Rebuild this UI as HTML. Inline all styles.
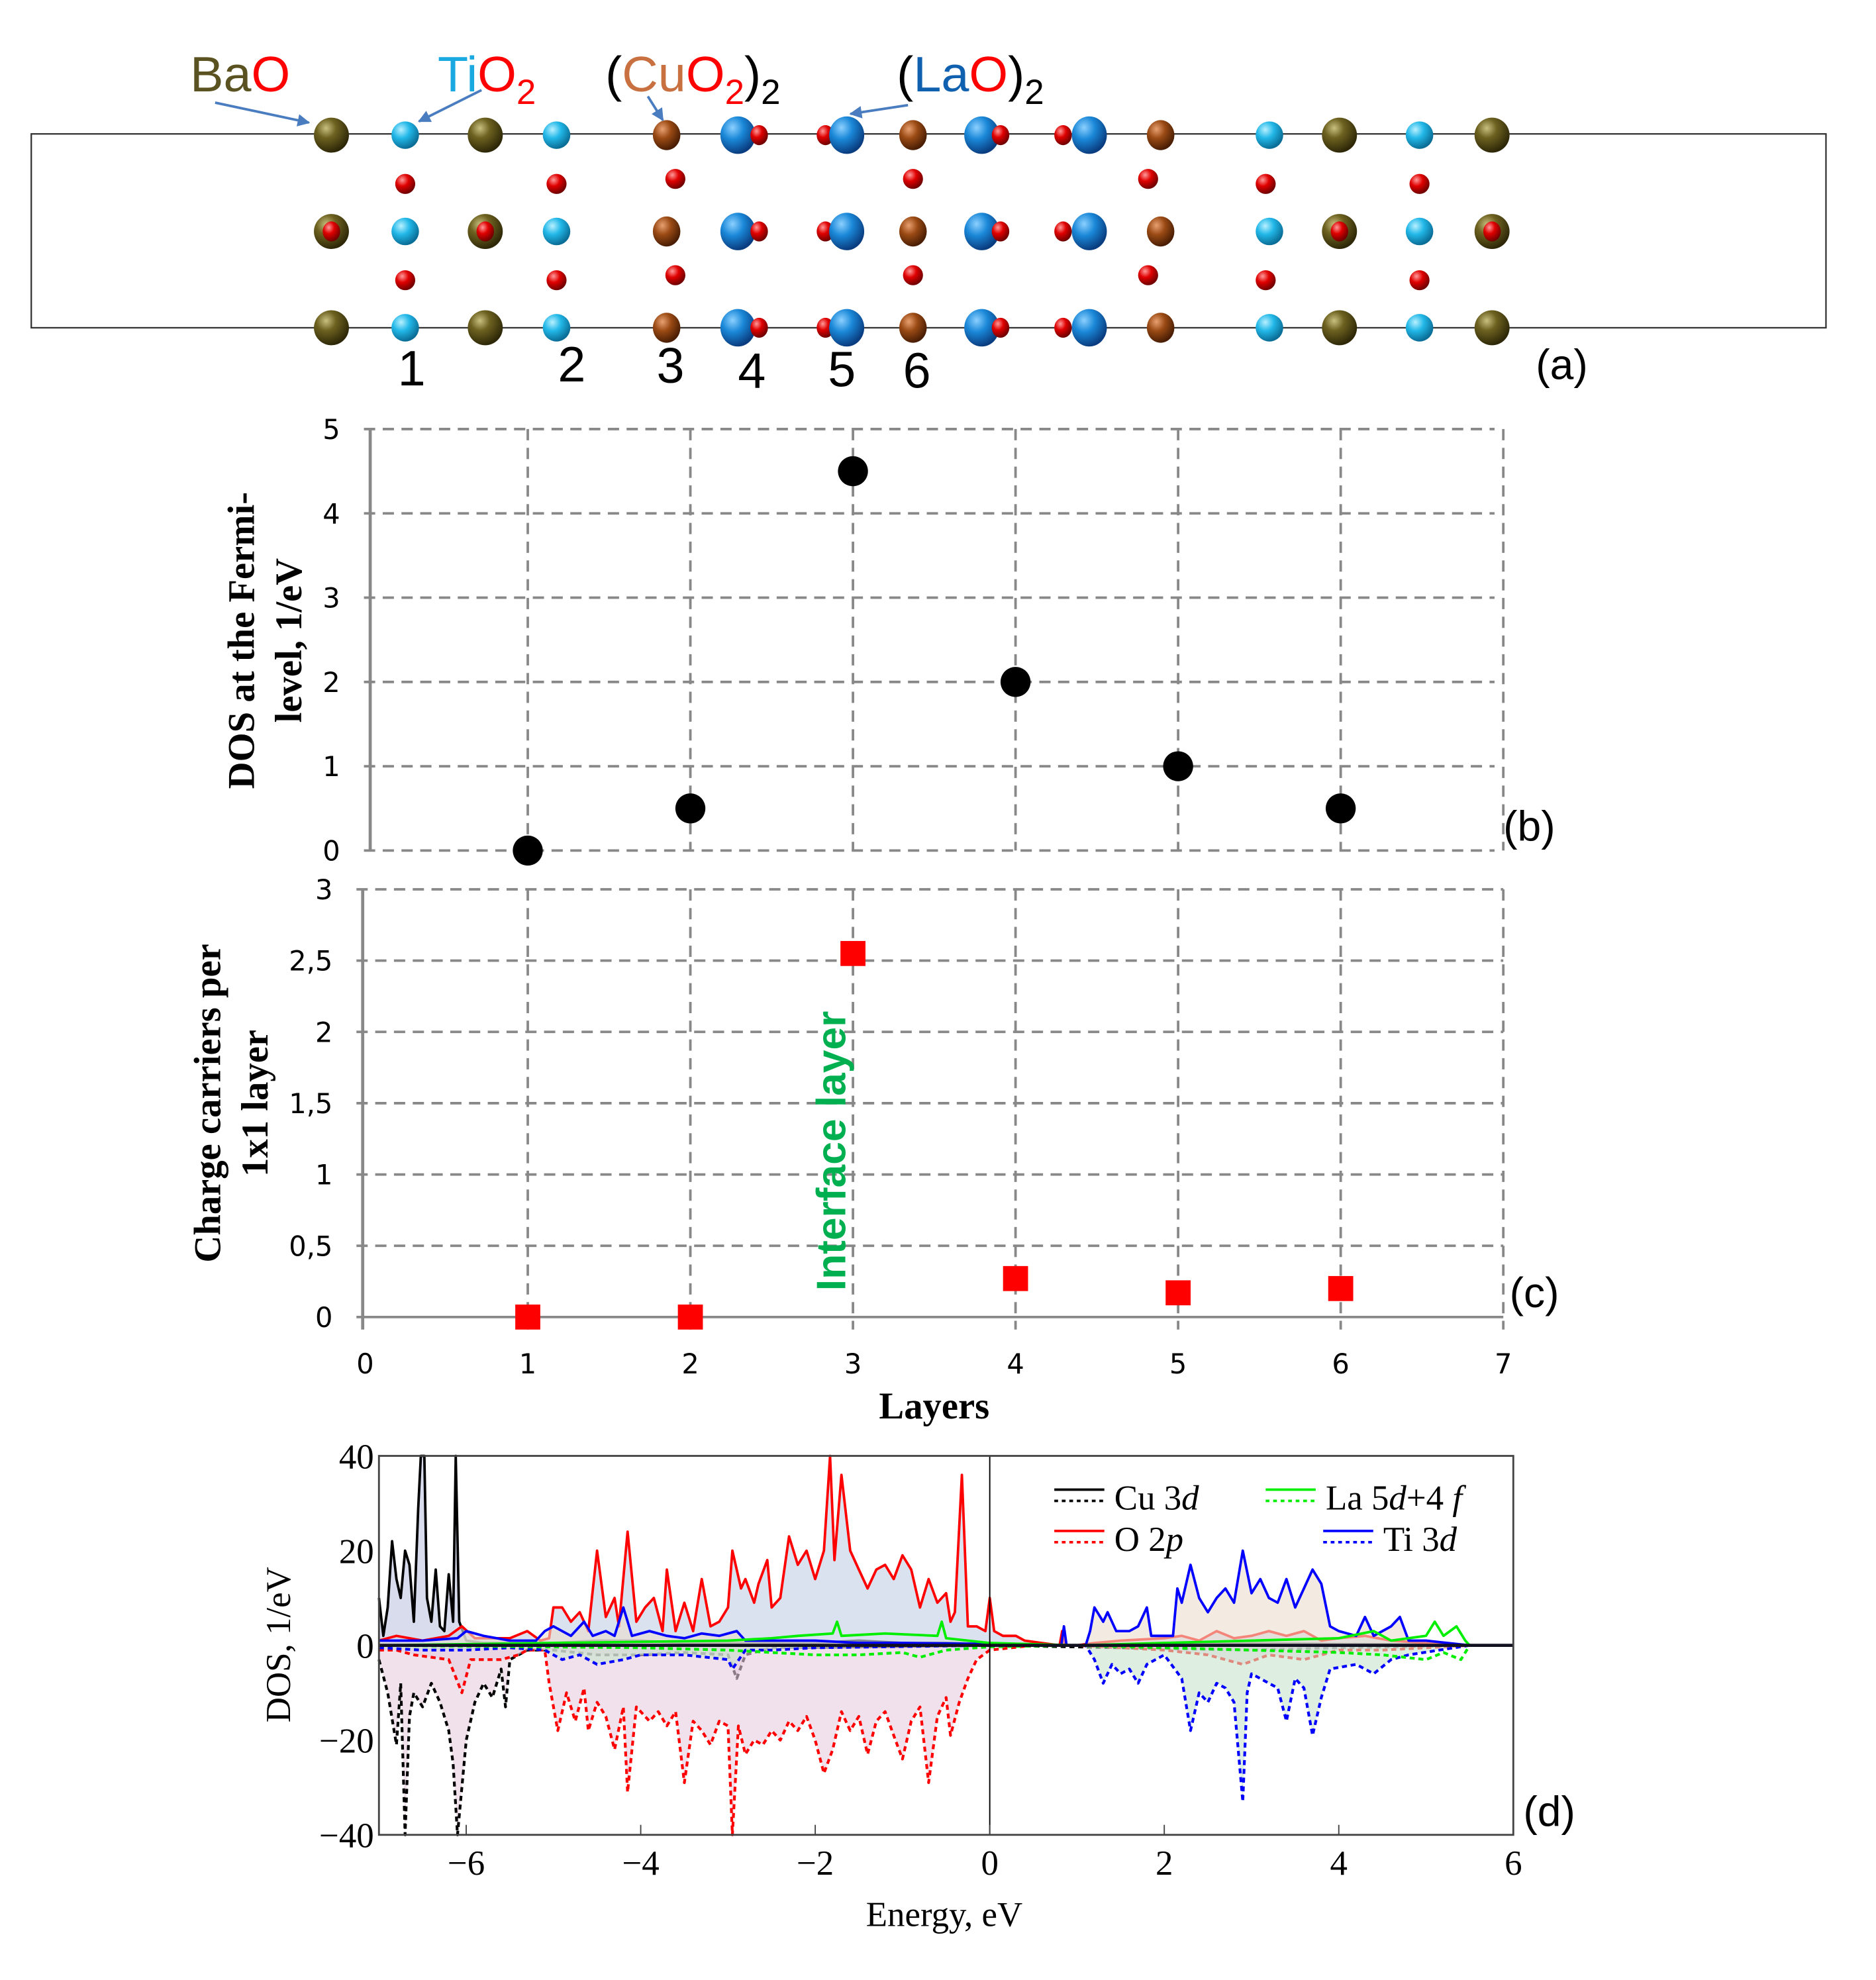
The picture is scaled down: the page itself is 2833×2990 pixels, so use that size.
<!DOCTYPE html>
<html><head><meta charset="utf-8"><style>
html,body{margin:0;padding:0;background:#fff}
svg{display:block}
.serifb{font-family:"Liberation Serif",serif;font-weight:bold}
.sans{font-family:"DejaVu Sans","Liberation Sans",sans-serif}
.serif{font-family:"Liberation Serif",serif}
</style></head><body>
<svg id="fig" width="2833" height="2990" viewBox="0 0 1500 1583" xmlns="http://www.w3.org/2000/svg">
<defs>
<radialGradient id="gBa" cx="35%" cy="30%" r="70%"><stop offset="0" stop-color="#c8c080"/><stop offset="0.4" stop-color="#6e6220"/><stop offset="1" stop-color="#2e2808"/></radialGradient>
<radialGradient id="gTi" cx="35%" cy="30%" r="70%"><stop offset="0" stop-color="#b8f0ff"/><stop offset="0.45" stop-color="#22b8e8"/><stop offset="1" stop-color="#0a6d96"/></radialGradient>
<radialGradient id="gLa" cx="35%" cy="30%" r="70%"><stop offset="0" stop-color="#8cd0ff"/><stop offset="0.45" stop-color="#1a88d8"/><stop offset="1" stop-color="#0a3d80"/></radialGradient>
<radialGradient id="gCu" cx="35%" cy="30%" r="70%"><stop offset="0" stop-color="#e8a070"/><stop offset="0.45" stop-color="#9a4a14"/><stop offset="1" stop-color="#4a1e04"/></radialGradient>
<radialGradient id="gO" cx="35%" cy="30%" r="70%"><stop offset="0" stop-color="#ff9a9a"/><stop offset="0.45" stop-color="#e00000"/><stop offset="1" stop-color="#700000"/></radialGradient>
<marker id="arr" viewBox="0 0 10 10" refX="9" refY="5" markerWidth="5" markerHeight="5" orient="auto"><path d="M0,0 L10,5 L0,10 z" fill="#4a7cc0"/></marker>
</defs>

<g id="panelA">
<rect x="25" y="107" width="1435" height="155" fill="none" stroke="#333" stroke-width="1.2"/>
<g id="atoms"></g>
<text x="152" y="73" font-size="40" font-family="Liberation Sans"><tspan fill="#5a5220">Ba</tspan><tspan fill="#f00">O</tspan></text>
<text x="350" y="73" font-size="40" font-family="Liberation Sans"><tspan fill="#1aa8e0">Ti</tspan><tspan fill="#f00">O</tspan><tspan fill="#f00" font-size="28" dy="10">2</tspan></text>
<text x="484" y="73" font-size="40" font-family="Liberation Sans"><tspan fill="#000">(</tspan><tspan fill="#c87040">Cu</tspan><tspan fill="#f00">O</tspan><tspan fill="#f00" font-size="28" dy="10">2</tspan><tspan fill="#000" dy="-10">)</tspan><tspan fill="#000" font-size="28" dy="10">2</tspan></text>
<text x="717" y="73" font-size="40" font-family="Liberation Sans"><tspan fill="#000">(</tspan><tspan fill="#1060b0">La</tspan><tspan fill="#f00">O</tspan><tspan fill="#000">)</tspan><tspan fill="#000" font-size="28" dy="10">2</tspan></text>
<line x1="172" y1="82" x2="247" y2="98" stroke="#4a7cc0" stroke-width="2" marker-end="url(#arr)"/>
<line x1="385" y1="72" x2="335" y2="97" stroke="#4a7cc0" stroke-width="2" marker-end="url(#arr)"/>
<line x1="518" y1="77" x2="530" y2="96" stroke="#4a7cc0" stroke-width="2" marker-end="url(#arr)"/>
<line x1="726" y1="84" x2="680" y2="91" stroke="#4a7cc0" stroke-width="2" marker-end="url(#arr)"/>
<g font-family="Liberation Sans" font-size="40" fill="#000">
<text x="318" y="308">1</text>
<text x="446" y="305">2</text>
<text x="525" y="306">3</text>
<text x="590" y="310">4</text>
<text x="662" y="309">5</text>
<text x="722" y="310">6</text>
</g>
<text x="1228" y="303" font-size="34" font-family="Liberation Sans">(a)</text>
</g>

<g id="panelB"></g>
<g id="panelC"></g>
<g id="panelD"></g>
</svg>

<script>
const layers = [1, 2, 3, 4, 5, 6];
const dosFermi = [0, 0.5, 4.5, 2, 1, 0.5];
const carriers = [0, 0, 2.55, 0.27, 0.17, 0.2];
const bTicks = [0, 1, 2, 3, 4, 5];
const cTicks = [0, 0.5, 1, 1.5, 2, 2.5, 3];
const cTickLabels = ["0", "0,5", "1", "1,5", "2", "2,5", "3"];
const xTicks = [0, 1, 2, 3, 4, 5, 6, 7];

const oUpE = [-7,-6.8,-6.5,-6.2,-6.05,-5.9,-5.5,-5.3,-5.15,-5.05,-5.0,-4.9,-4.8,-4.7,-4.6,-4.5,-4.4,-4.3,-4.25,-4.15,-4.05,-3.95,-3.85,-3.75,-3.7,-3.6,-3.5,-3.4,-3.3,-3.2,-3.1,-3.0,-2.95,-2.85,-2.8,-2.7,-2.65,-2.55,-2.5,-2.4,-2.3,-2.2,-2.1,-2.0,-1.9,-1.83,-1.78,-1.7,-1.6,-1.5,-1.4,-1.3,-1.2,-1.1,-1.0,-0.9,-0.8,-0.7,-0.6,-0.5,-0.45,-0.4,-0.32,-0.25,-0.15,-0.05,0,0.05,0.15,0.3,0.4,0.6,0.8,0.83,0.86,1.0,1.2,1.5,2.0,2.2,2.4,2.6,2.8,3.0,3.2,3.4,3.6,3.8,4.0,4.3,4.6,5.0,5.5];
const oUpV = [1,2,1,2,4,1.5,1.5,3,1,1.5,8,8,5,7,3,20,6,10,4,24,5,8,10,3,16,3,9,3,14,4,5,8,20,12,14,9,13,18,8,10,23,17,20,14,20,40,18,36,20,16,12,16,17,14,19,16,8,14,9,11,5,7,36,4,4,3,10,3,2,2,1,0.5,0,3,0,0,0.5,1,1.5,2,1,3,1.5,2,3,2,3,1,1.5,2,1,0.5,0];
const oDnE = [-7,-6.8,-6.6,-6.2,-6.05,-5.95,-5.6,-5.4,-5.3,-5.1,-5.05,-4.95,-4.85,-4.75,-4.65,-4.6,-4.5,-4.4,-4.3,-4.2,-4.15,-4.05,-3.9,-3.8,-3.7,-3.6,-3.5,-3.4,-3.3,-3.2,-3.1,-3.0,-2.95,-2.88,-2.8,-2.7,-2.6,-2.5,-2.4,-2.3,-2.2,-2.1,-2.0,-1.9,-1.8,-1.7,-1.6,-1.5,-1.4,-1.3,-1.2,-1.1,-1.0,-0.9,-0.8,-0.7,-0.6,-0.5,-0.45,-0.35,-0.25,-0.15,0,0.5,1.0,1.5,2.0,2.5,2.9,3.2,3.6,4.0,4.5,5.5];
const oDnV = [-1,-1,-2,-3,-10,-3,-3,-2,-1,-1,-8,-18,-10,-16,-9,-18,-12,-15,-22,-13,-31,-13,-16,-14,-17,-14,-29,-16,-18,-21,-16,-17,-40,-17,-23,-20,-21,-18,-20,-16,-18,-15,-20,-27,-22,-14,-18,-15,-23,-16,-14,-19,-24,-16,-13,-29,-15,-11,-19,-12,-7,-3,-1,0,0,-0.5,-1,-2,-4,-2,-3,-1,-1,0];
const cuUpE = [-7,-6.95,-6.9,-6.85,-6.8,-6.75,-6.7,-6.65,-6.6,-6.55,-6.52,-6.48,-6.45,-6.4,-6.35,-6.3,-6.25,-6.2,-6.15,-6.12,-6.08,-6.0,-5.8,-5.0,-4.5,-4.0,-3.5,-3.0,-2.5,-2.0,-1.5,-1.0,-0.5,0,1,2,3,4,5,5.5];
const cuUpV = [10,2,8,22,14,10,20,17,5,29,40,40,10,5,16,4,3,15,5,40,5,1,0.5,0.5,1,1,0.5,0.5,0.5,0.5,1,0.5,0.5,0.3,0,0.2,0.5,0.3,0.2,0];
const cuDnE = [-7,-6.9,-6.8,-6.75,-6.7,-6.65,-6.6,-6.5,-6.4,-6.3,-6.2,-6.15,-6.1,-6.05,-6.0,-5.9,-5.8,-5.7,-5.6,-5.55,-5.5,-5.3,-5.0,-4.5,-4.0,-3.5,-3.0,-2.9,-2.8,-2.5,0,3,4,5.5];
const cuDnV = [-3,-10,-21,-8,-40,-15,-10,-13,-8,-12,-18,-25,-40,-30,-20,-12,-8,-11,-5,-13,-3,-1,-1,-2,-2,-1.5,-2,-7,-2,-0.5,0,-1,-0.5,0];
const tiUpE = [-7,-6.5,-6.1,-6.0,-5.8,-5.5,-5.2,-5.1,-5.0,-4.9,-4.8,-4.65,-4.55,-4.4,-4.3,-4.2,-4.1,-3.9,-3.7,-3.5,-3.3,-3.1,-2.9,-2.8,-2.5,-2.0,-1.5,-1.0,0,0.5,0.82,0.85,0.88,1.1,1.15,1.2,1.3,1.35,1.45,1.6,1.7,1.8,1.85,2.1,2.15,2.2,2.3,2.4,2.5,2.6,2.7,2.8,2.9,3.0,3.1,3.2,3.3,3.4,3.5,3.6,3.7,3.8,3.9,4.0,4.2,4.3,4.4,4.6,4.7,4.8,5.0,5.5];
const tiUpV = [1,1,1.5,3,2,1,1,3,4,3,2,5,2,3,2,8,2,3,2,1.5,2.5,2,3,1,1,1,0.5,0.5,0.3,0,0,4,0,0,3,8,5,7,3,3,4,8,2,2,12,9,17,10,7,10,12,9,20,11,14,10,9,14,8,12,16,13,4,3,2,6,2,4,6,1,1,0];
const tiDnE = [-7,-6.5,-6,-5.5,-5.1,-4.9,-4.7,-4.5,-4.2,-4,-3.5,-3,-2.95,-2.8,-2.5,-2,0,1.1,1.2,1.3,1.4,1.5,1.6,1.7,1.8,2,2.2,2.3,2.4,2.5,2.6,2.7,2.8,2.9,2.95,3.0,3.2,3.3,3.4,3.5,3.6,3.7,3.8,3.9,4.2,4.4,4.6,4.8,5.5];
const tiDnV = [-0.5,-1,-1,-0.5,-1,-3,-2,-4,-3,-2,-2,-3,-5,-1,-1,-0.5,0,0,-3,-8,-4,-6,-5,-8,-4,-2,-7,-18,-10,-12,-8,-9,-12,-33,-10,-6,-8,-9,-16,-7,-9,-19,-11,-5,-4,-6,-3,-2,0];
const laUpE = [-7,-5,-3,-2.5,-2.2,-1.8,-1.75,-1.7,-1.2,-0.6,-0.55,-0.5,0,1,2,3,4,4.4,4.6,4.8,5.0,5.1,5.2,5.35,5.45,5.5];
const laUpV = [0,0.5,1,1.5,2,2.5,5,2,2.5,2,5,1.5,0.5,0,0.5,1,1.5,3,1,1.5,2,5,2,4,1,0];
const laDnE = [-7,-4,-3,-2.5,-2,-1.5,-1,-0.8,-0.5,0,1,2,3,4,4.5,5,5.2,5.4,5.5];
const laDnV = [0,-0.5,-1,-1.5,-2,-2,-1.5,-2.5,-1,-0.3,0,-0.5,-1,-1.5,-2,-3,-1.5,-3,0];
const dXTicks = [-6, -4, -2, 0, 2, 4, 6];
const dYTicks = [-40, -20, 0, 20, 40];
const dYTickLabels = ["\u221240", "\u221220", "0", "20", "40"];

const NS = "http://www.w3.org/2000/svg";
function mk(parent, tag, attrs, text) {
  const el = document.createElementNS(NS, tag);
  for (const k in attrs) el.setAttribute(k, attrs[k]);
  if (text !== undefined) el.textContent = text;
  parent.appendChild(el);
  return el;
}

(function () {
  const g = document.getElementById('atoms');
  const rows = [108, 185, 262];
  const orows = [147, 224];
  function atom(x, y, rx, ry, grad, name) {
    const e = mk(g, 'ellipse', {cx: x, cy: y, rx: rx, ry: ry, fill: 'url(#' + grad + ')'});
    
    
  }
  const cols = [
    [265,'Ba'],[324,'Ti'],[388,'Ba'],[445,'Ti'],[533,'Cu'],[730,'Cu'],[928,'Cu'],[1015,'Ti'],[1071,'Ba'],[1135,'Ti'],[1193,'Ba']
  ];
  const laCols = [[590,607],[677,660],[785,800],[871,850]];
  rows.forEach((y, ri) => {
    cols.forEach(([x, t]) => {
      if (t === 'Ba') { atom(x, y, 14, 14, 'gBa', 'ba-atom'); if (ri === 1) atom(x, y, 7, 8, 'gO', 'o-atom'); }
      else if (t === 'Ti') atom(x, y, 11, 11, 'gTi', 'ti-atom');
      else atom(x, y, 11, 12, 'gCu', 'cu-atom');
    });
    laCols.forEach(([la, o]) => {
      if (o < la) { atom(o, y, 7, 8, 'gO', 'o-atom'); atom(la, y, 14, 15, 'gLa', 'la-atom'); }
      else { atom(la, y, 14, 15, 'gLa', 'la-atom'); atom(o, y, 7, 8, 'gO', 'o-atom'); }
    });
  });
  const ocols = [[324,0],[445,0],[540,-4],[730,-4],[918,-4],[1012,0],[1135,0]];
  orows.forEach(y => ocols.forEach(([x, d]) => atom(x, y + d, 8, 8, 'gO', 'o-atom')));
})();

const X0 = 292, XU = 130;
function lx(v) { return X0 + v * XU; }
function drawScatter(gid, yZero, yUnit, ticks, tickLabels, vals, marker, rightX, axisX) {
  const g = document.getElementById(gid);
  const yy = v => yZero - v * yUnit;
  const top = yy(ticks[ticks.length - 1]);
  ticks.forEach((t, i) => {
    const y = yy(t);
    const l = mk(g, 'line', {x1: axisX - 5, y1: y, x2: rightX, y2: y, stroke: '#888', 'stroke-width': 2, 'stroke-dasharray': i === 0 && gid === 'panelC' ? 'none' : '9,6'});
    
    
    const tx = mk(g, 'text', {x: axisX - 24, y: y + 8, 'font-size': 22, 'text-anchor': 'end', 'font-family': 'DejaVu Sans, Liberation Sans, sans-serif'}, tickLabels[i]);
    
    
  });
  for (let k = 1; k <= 7; k++) {
    const x = lx(k);
    const l = mk(g, 'line', {x1: x, y1: top, x2: x, y2: yZero + (gid === 'panelC' ? 10 : 0), stroke: '#888', 'stroke-width': 2, 'stroke-dasharray': '9,6'});
    
    
  }
  const ax = mk(g, 'line', {x1: axisX, y1: top, x2: axisX, y2: yZero + (gid === 'panelC' ? 10 : 0), stroke: '#888', 'stroke-width': 2.5});
  
  
  layers.forEach((L, i) => {
    const x = lx(L), y = yy(vals[i]);
    let m;
    if (marker === 'circle') m = mk(g, 'circle', {cx: x, cy: y, r: 12, fill: '#000'});
    else m = mk(g, 'rect', {x: x - 10, y: y - 10, width: 20, height: 20, fill: '#f00'});
    
    
  });
}
drawScatter('panelB', 680, 67.4, bTicks, bTicks.map(String), dosFermi, 'circle', 1195, 296);
drawScatter('panelC', 1053, 114, cTicks, cTickLabels, carriers, 'square', 1202, 290);
(function () {
  const gb = document.getElementById('panelB');
  const t1 = mk(gb, 'text', {transform: 'translate(203,512) rotate(-90)', 'font-size': 30, 'text-anchor': 'middle', class: 'serifb'}, 'DOS at the Fermi-');
  
  
  const t2 = mk(gb, 'text', {transform: 'translate(241,512) rotate(-90)', 'font-size': 30, 'text-anchor': 'middle', class: 'serifb'}, 'level, 1/eV');
  
  
  const pl = mk(gb, 'text', {x: 1202, y: 672, 'font-size': 34, 'font-family': 'Liberation Sans'}, '(b)');
  
  
  const gc = document.getElementById('panelC');
  const c1 = mk(gc, 'text', {transform: 'translate(176,882) rotate(-90)', 'font-size': 30, 'text-anchor': 'middle', class: 'serifb'}, 'Charge carriers  per');
  
  
  const c2 = mk(gc, 'text', {transform: 'translate(214,882) rotate(-90)', 'font-size': 30, 'text-anchor': 'middle', class: 'serifb'}, '1x1 layer');
  
  
  const il = mk(gc, 'text', {transform: 'translate(676,1032) rotate(-90)', 'font-size': 33, fill: '#00b050', 'font-weight': 'bold', 'font-family': 'Liberation Sans, sans-serif'}, 'Interface layer');
  
  
  xTicks.forEach(t => {
    const tx = mk(gc, 'text', {x: lx(t), y: 1098, 'font-size': 22, 'text-anchor': 'middle', 'font-family': 'DejaVu Sans, Liberation Sans, sans-serif'}, String(t));
    
    
  });
  const xt = mk(gc, 'text', {x: 747, y: 1134, 'font-size': 30, 'text-anchor': 'middle', class: 'serifb'}, 'Layers');
  
  
  const pc = mk(gc, 'text', {x: 1207, y: 1045, 'font-size': 34, 'font-family': 'Liberation Sans'}, '(c)');
  
  
})();

(function () {
  const g = document.getElementById('panelD');
  const L = 303, R = 1210, T = 1164, B = 1467;
  const ex = e => L + (e + 7) * (R - L) / 13;
  const dy = v => (T + B) / 2 - v * (B - T) / 80;
  function series(E, V, color, fill, dashed, name) {
    const pts = E.map((e, i) => ex(e).toFixed(1) + ',' + dy(Math.max(-40, Math.min(40, V[i]))).toFixed(1));
    if (fill) {
      const a = mk(g, 'polygon', {points: ex(E[0]) + ',' + dy(0) + ' ' + pts.join(' ') + ' ' + ex(E[E.length - 1]) + ',' + dy(0), fill: fill, stroke: 'none'});
      
      
    }
    const p = mk(g, 'polyline', {points: pts.join(' '), fill: 'none', stroke: color, 'stroke-width': dashed ? 2.2 : 2, 'stroke-dasharray': dashed ? '4,3' : 'none', 'stroke-linejoin': 'round'});
    
    
  }
  series(cuUpE, cuUpV, '#000', 'rgba(200,205,230,0.7)', false, 'cu-3d-up-line');
  series(oUpE, oUpV, '#f00', 'rgba(200,210,230,0.65)', false, 'o-2p-up-line');
  series(tiUpE, tiUpV, '#00f', 'rgba(235,222,205,0.6)', false, 'ti-3d-up-line');
  series(cuDnE, cuDnV, '#000', 'rgba(230,205,222,0.6)', true, 'cu-3d-down-line');
  series(oDnE, oDnV, '#f00', 'rgba(230,205,225,0.6)', true, 'o-2p-down-line');
  series(tiDnE, tiDnV, '#00f', 'rgba(200,228,205,0.6)', true, 'ti-3d-down-line');
  series(laUpE, laUpV, '#0e0', null, false, 'la-5d4f-up-line');
  series(laDnE, laDnV, '#0e0', null, true, 'la-5d4f-down-line');
  const zl = mk(g, 'line', {x1: L, y1: dy(0), x2: R, y2: dy(0), stroke: '#112', 'stroke-width': 2.5});
  
  
  const fl = mk(g, 'line', {x1: ex(0), y1: T, x2: ex(0), y2: B, stroke: '#000', 'stroke-width': 1});
  
  
  const fr = mk(g, 'rect', {x: L, y: T, width: R - L, height: B - T, fill: 'none', stroke: '#444', 'stroke-width': 1.5});
  
  
  dXTicks.forEach(t => {
    const tk = mk(g, 'line', {x1: ex(t), y1: B, x2: ex(t), y2: B - 8, stroke: '#444'});
    
    
    const tx = mk(g, 'text', {x: ex(t), y: B + 32, 'font-size': 28, 'text-anchor': 'middle', class: 'serif'}, t < 0 ? '\u2212' + (-t) : String(t));
    
    
  });
  dYTicks.forEach((t, i) => {
    const tx = mk(g, 'text', {x: L - 4, y: dy(t) + 10, 'font-size': 28, 'text-anchor': 'end', class: 'serif'}, dYTickLabels[i]);
    
    
  });
  const yt = mk(g, 'text', {transform: 'translate(232,1315) rotate(-90)', 'font-size': 28, 'text-anchor': 'middle', class: 'serif'}, 'DOS, 1/eV');
  
  
  const xt = mk(g, 'text', {x: 755, y: 1540, 'font-size': 28, 'text-anchor': 'middle', class: 'serif'}, 'Energy, eV');
  
  
  const pd = mk(g, 'text', {x: 1218, y: 1460, 'font-size': 34, 'font-family': 'Liberation Sans'}, '(d)');
  
  
  const leg = [
    [843, 1197, '#000', 'Cu 3', 'd', ''],
    [843, 1230, '#f00', 'O 2', 'p', ''],
    [1012, 1197, '#0e0', 'La 5', 'd', '+4 f'],
    [1058, 1230, '#00f', 'Ti 3', 'd', '']
  ];
  leg.forEach(([x, y, c, a, it, b]) => {
    const s1 = mk(g, 'line', {x1: x, y1: y - 6, x2: x + 40, y2: y - 6, stroke: c, 'stroke-width': 2});
    
    
    const s2 = mk(g, 'line', {x1: x, y1: y + 3, x2: x + 40, y2: y + 3, stroke: c, 'stroke-width': 2, 'stroke-dasharray': '3,3'});
    
    
    const t = mk(g, 'text', {x: x + 48, y: y + 10, 'font-size': 28, class: 'serif'});
    
    
    mk(t, 'tspan', {}, a);
    mk(t, 'tspan', {'font-style': 'italic'}, it);
    if (b) { mk(t, 'tspan', {}, '+4'); mk(t, 'tspan', {'font-style': 'italic'}, ' f'); }
  });
})();
</script>
</body></html>
